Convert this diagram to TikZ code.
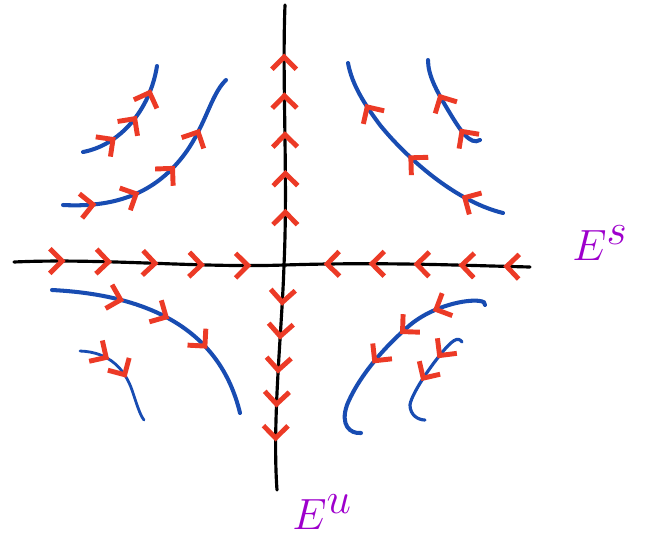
\documentclass[tikz,border=0pt]{standalone}
\usepackage{tikz}
\usetikzlibrary{arrows.meta,decorations.markings}
\definecolor{flowblue}{RGB}{24,76,178}
\definecolor{tipred}{RGB}{236,58,38}
\definecolor{labpurple}{RGB}{158,0,204}

\tikzset{
  redtip/.tip={Straight Barb[color=tipred,length=7pt,width=14pt,line width=2.8pt]},
  fwd/.style={postaction={decorate,decoration={markings,
      mark=between positions #1 with {\arrow{redtip}}}}},
  bwd/.style={postaction={decorate,decoration={markings,
      mark=between positions #1 with {\arrowreversed{redtip}}}}},
}

\begin{document}
\begin{tikzpicture}[x=0.02cm,y=-0.02cm,
    axis/.style={draw=black,line width=1.8pt,line cap=round},
    flow/.style={draw=flowblue,line width=2.3pt,line cap=round},
    lab/.style={text=labpurple,font=\fontsize{36}{42}\selectfont}]
  \useasboundingbox (0,0) rectangle (645,555);

  % invariant lines
  \coordinate (sW) at (14,262);
  \coordinate (sE) at (530,267);
  \coordinate (uS) at (277,490);
  \coordinate (uN) at (285,5);
  \coordinate (o) at (284,265);
  \draw[axis,fwd={0.1 and 0.47 step 0.09},bwd={0.6 and 0.96 step 0.087}]
    (sW) .. controls (100,258) and (200,268) .. (o)
         .. controls (380,262) and (450,265) .. (sE);
  \draw[axis,bwd={0.1 and 0.39 step 0.07},fwd={0.58 and 0.91 step 0.08}]
    (uS) .. controls (272,420) and (282,330) .. (o)
         .. controls (288,180) and (282,80) .. (uN);

  % upper left
  \draw[flow,fwd={0.3 and 0.85 step 0.25}]
    (83,152) .. controls (120,145) and (150,110) .. (157,66);
  \draw[flow,fwd={0.15 and 0.8 step 0.2}]
    (63,205) .. controls (120,208) and (155,190) .. (180,160)
             .. controls (205,130) and (210,95) .. (226,80);

  % upper right
  \draw[flow,fwd={0.2 and 0.85 step 0.3}]
    (503,213) .. controls (450,200) and (400,150) .. (380,125)
              .. controls (365,105) and (352,85) .. (348,63);
  \draw[flow,fwd={0.25 and 0.7 step 0.4}]
    (480,140) .. controls (470,146) and (460,130) .. (448,110)
              .. controls (436,90) and (428,75) .. (428,60);

  % lower left
  \draw[flow,fwd={0.3 and 0.75 step 0.2}]
    (52,290) .. controls (150,295) and (220,330) .. (240,413);
  \draw[flow,line width=1.6pt,fwd={0.3 and 0.6 step 0.25}]
    (80,351) .. controls (110,352) and (125,370) .. (132,390)
             .. controls (137,405) and (140,415) .. (144,420);

  % lower right
  \draw[flow,fwd={0.25 and 0.65 step 0.18}]
    (485,305) .. controls (488,296) and (440,300) .. (410,325)
              .. controls (375,355) and (355,385) .. (347,405)
              .. controls (340,425) and (350,434) .. (361,433);
  \draw[flow,line width=1.8pt,fwd={0.3 and 0.6 step 0.25}]
    (462,342) .. controls (458,336) and (452,340) .. (440,355)
              .. controls (420,380) and (410,400) .. (410,405)
              .. controls (410,415) and (418,420) .. (425,420);

  % labels
  \node[lab] (es) at (600,243) {$E^{s}$};
  \node[lab] (eu) at (322,512) {$E^{u}$};
\end{tikzpicture}
\end{document}
